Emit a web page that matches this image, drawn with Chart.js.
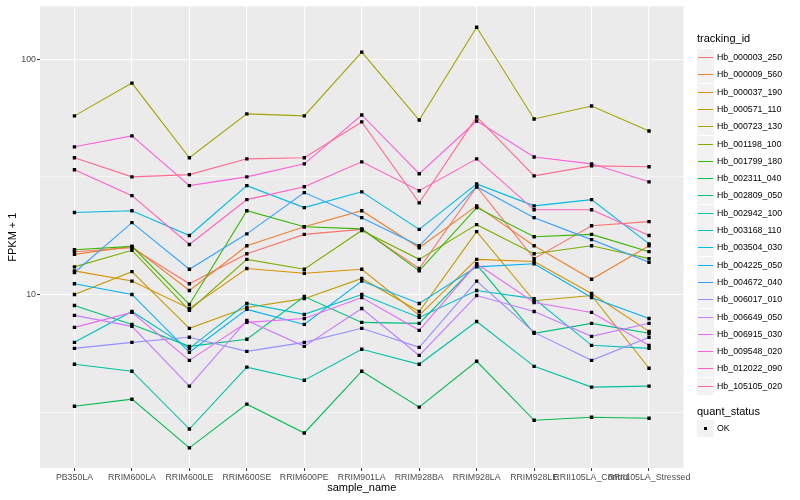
<!DOCTYPE html>
<html>
<head>
<meta charset="utf-8">
<script src="https://cdn.jsdelivr.net/npm/chart.js@4.4.1/dist/chart.umd.min.js"></script>
<style>
  body { margin: 0; background: #fff; font-family: "Liberation Sans", Arial, sans-serif; }
  #wrap { position: relative; width: 800px; height: 500px; }
  #legend div { position: absolute; white-space: nowrap; }
  .ttl { font-size: 11px; color: #000; }
  .key { width: 17px; height: 17px; background: #F2F2F2; }
  .lbl { font-size: 8.8px; color: #000; }
</style>
</head>
<body>
<div id="wrap">
  <canvas id="fpkmCanvas" width="800" height="500"></canvas>
  <div id="legend"></div>
</div>
<script>
// samples on the x axis
var categories = ["PB350LA", "RRIM600LA", "RRIM600LE", "RRIM600SE", "RRIM600PE", "RRIM901LA",
  "RRIM928BA", "RRIM928LA", "RRIM928LE", "RRII105LA_Control", "RRII105LA_Stressed"];

var trackingIds = ["Hb_000003_250", "Hb_000009_560", "Hb_000037_190", "Hb_000571_110", "Hb_000723_130",
  "Hb_001198_100", "Hb_001799_180", "Hb_002311_040", "Hb_002809_050", "Hb_002942_100",
  "Hb_003168_110", "Hb_003504_030", "Hb_004225_050", "Hb_004672_040", "Hb_006017_010",
  "Hb_006649_050", "Hb_006915_030", "Hb_009548_020", "Hb_012022_090", "Hb_105105_020"];

var lineColours = ["#F8766D", "#EA8331", "#D89000", "#C09B00", "#A3A500", "#7CAE00", "#39B600", "#00BB4E",
  "#00BF7D", "#00C1A3", "#00BFC4", "#00BAE0", "#00B0F6", "#35A2FF", "#9590FF", "#C77CFF",
  "#E76BF3", "#FA62DB", "#FF62BC", "#FF6C91"];

// FPKM + 1 per sample
var hb000003_250 = [15.2, 15.8, 11.1, 14.9, 18.0, 18.9, 12.9, 28.7, 14.2, 19.6, 20.4];
var hb000009_560 = [14.8, 16.0, 10.4, 16.1, 19.4, 22.7, 15.8, 23.8, 16.1, 11.6, 16.1];
var hb000037_190 = [12.6, 11.4, 8.72, 12.9, 12.3, 12.8, 8.15, 14.1, 13.8, 10.1, 6.97];
var hb000571_110 = [10.0, 12.5, 7.18, 8.81, 9.6, 11.7, 8.47, 18.5, 9.4, 9.9, 4.86];
var hb000723_130 = [57.4, 79.1, 38.1, 58.5, 57.4, 107.1, 55.1, 136.6, 55.7, 63.2, 49.5];
var hb001198_100 = [13.1, 15.4, 8.56, 14.1, 12.8, 18.7, 14.1, 19.8, 14.9, 16.1, 14.2];
var hb001799_180 = [15.5, 16.0, 9.07, 22.7, 19.4, 19.0, 12.6, 23.4, 17.6, 18.0, 15.2];
var hb002311_040 = [3.35, 3.59, 2.23, 3.42, 2.58, 4.72, 3.32, 5.20, 2.92, 3.01, 2.98];
var hb002809_050 = [8.98, 7.46, 6.02, 6.45, 9.8, 7.61, 7.54, 13.4, 6.84, 7.54, 6.84];
var hb002942_100 = [5.05, 4.72, 2.68, 4.91, 4.32, 5.85, 5.05, 7.68, 4.95, 4.04, 4.08];
var hb003168_110 = [6.26, 8.47, 5.90, 9.16, 8.23, 10.0, 7.99, 10.4, 9.6, 6.08, 5.90];
var hb003504_030 = [22.3, 22.7, 17.8, 29.0, 23.4, 27.3, 18.9, 29.5, 23.8, 25.3, 16.4];
var hb004225_050 = [11.1, 10.0, 5.68, 8.64, 7.46, 11.4, 9.16, 13.1, 13.5, 9.7, 7.91];
var hb004672_040 = [12.4, 20.2, 12.8, 18.1, 27.1, 21.2, 16.1, 28.7, 21.2, 17.1, 13.7];
var hb006017_010 = [5.90, 6.26, 6.58, 5.73, 6.26, 7.18, 5.96, 11.4, 6.90, 5.25, 6.58];
var hb006649_050 = [8.15, 7.32, 4.08, 7.76, 6.02, 8.72, 5.51, 9.9, 8.47, 6.64, 7.54];
var hb006915_030 = [7.25, 8.39, 5.25, 7.61, 7.91, 9.7, 7.04, 13.5, 9.25, 8.39, 6.08];
var hb009548_020 = [42.4, 47.2, 29.0, 31.6, 35.9, 57.9, 32.6, 54.6, 38.4, 35.9, 30.1];
var hb012022_090 = [33.9, 26.3, 16.3, 25.3, 28.7, 36.6, 27.6, 37.7, 22.9, 22.9, 17.8];
var hb105105_020 = [38.1, 31.6, 32.3, 37.7, 38.1, 54.1, 24.5, 56.8, 31.9, 35.2, 34.9];

var seriesValues = [hb000003_250, hb000009_560, hb000037_190, hb000571_110, hb000723_130,
  hb001198_100, hb001799_180, hb002311_040, hb002809_050, hb002942_100,
  hb003168_110, hb003504_030, hb004225_050, hb004672_040, hb006017_010,
  hb006649_050, hb006915_030, hb009548_020, hb012022_090, hb105105_020];

// log10 axis breaks
var yMajorBreaks = [10, 100];
var yMinorBreaks = [3.1623, 31.623];
var quantStatus = ["OK"];

// lines first, ggplot-like: later ids on top
var datasets = [];
var allPoints = [];
$each = function(arr, fn) { for (var i = 0; i < arr.length; i++) fn(i, arr[i]); };
$each(seriesValues, function(i, vals) {
  var pts = [];
  $each(vals, function(j, v) { pts.push({x: j, y: v}); allPoints.push({x: j, y: v}); });
  datasets.push({
    label: trackingIds[i],
    data: pts,
    borderColor: lineColours[i],
    borderWidth: 1.1,
    pointRadius: 0,
    tension: 0,
    order: seriesValues.length - i
  });
});
datasets.push({
  label: "quant_status",
  data: allPoints,
  showLine: false,
  pointStyle: "rect",
  pointRadius: 2.4,
  pointBackgroundColor: "#000",
  pointBorderWidth: 0,
  order: 0
});

var panelBg = {
  id: "panelBg",
  beforeDraw: function(chart) {
    var c = chart.ctx, a = chart.chartArea;
    c.save();
    c.fillStyle = "#fff";
    c.fillRect(0, 0, chart.width, chart.height);
    c.fillStyle = "#EBEBEB";
    c.fillRect(a.left, a.top, a.right - a.left, a.bottom - a.top);
    c.restore();
  }
};

function isMajor(v) { return yMajorBreaks.indexOf(v) >= 0; }

var ctx = document.getElementById("fpkmCanvas").getContext("2d");
new Chart(ctx, {
  type: "line",
  data: { datasets: datasets },
  plugins: [panelBg],
  options: {
    responsive: false,
    animation: false,
    events: [],
    layout: { padding: { left: 0, top: 5, right: 116.5, bottom: 0 } },
    plugins: { legend: { display: false }, tooltip: { enabled: false } },
    scales: {
      x: {
        type: "linear",
        min: -0.6,
        max: categories.length - 0.4,
        afterBuildTicks: function(s) { s.ticks = categories.map(function(c, i) { return {value: i}; }); },
        afterFit: function(s) { s.height = 32; },
        ticks: {
          autoSkip: false, maxRotation: 0, minRotation: 0, padding: 1,
          color: "#4D4D4D", font: { family: "Liberation Sans", size: 8.8 },
          callback: function(v) { return categories[v]; }
        },
        grid: { color: "#fff", lineWidth: 1.1, tickColor: "#333", tickLength: 3, tickWidth: 1 },
        border: { display: false },
        title: {
          display: true, text: "sample_name", color: "#000",
          font: { family: "Liberation Sans", size: 11 }, padding: { top: 0, bottom: 5 }
        }
      },
      y: {
        type: "logarithmic",
        min: 1.831,
        max: 167.7,
        afterBuildTicks: function(s) {
          s.ticks = yMinorBreaks.concat(yMajorBreaks).sort(function(a, b) { return a - b; })
            .map(function(v) { return {value: v}; });
        },
        afterFit: function(s) { s.width = 40; },
        ticks: {
          padding: 1, color: "#4D4D4D", font: { family: "Liberation Sans", size: 8.8 },
          callback: function(v) { return isMajor(v) ? String(v) : ""; }
        },
        grid: {
          color: "#fff",
          lineWidth: function(c) { return c.tick && isMajor(c.tick.value) ? 1.1 : 0.55; },
          tickColor: function(c) { return c.tick && isMajor(c.tick.value) ? "#333" : "rgba(0,0,0,0)"; },
          tickLength: 3, tickWidth: 1
        },
        border: { display: false },
        title: {
          display: true, text: "FPKM + 1", color: "#000",
          font: { family: "Liberation Sans", size: 11 }, padding: { top: 6, bottom: 0 }
        }
      }
    }
  }
});

// legend on the right, as text
var legend = document.getElementById("legend");
function addDiv(cls, left, top, html) {
  var d = document.createElement("div");
  d.className = cls;
  d.style.left = left + "px";
  d.style.top = top + "px";
  if (html) d.innerHTML = html;
  legend.appendChild(d);
  return d;
}
addDiv("ttl", 697, 32, "tracking_id");
$each(trackingIds, function(i, id) {
  var top = Math.round(49 + i * 17.3);
  var k = addDiv("key", 697, top);
  var ln = document.createElement("div");
  ln.setAttribute("style", "position:absolute;left:1px;top:7.5px;width:15px;height:1.6px;background:" + lineColours[i]);
  k.appendChild(ln);
  addDiv("lbl", 717, top + 3, id);
});
addDiv("ttl", 697, 405, "quant_status");
$each(quantStatus, function(i, s) {
  var top = Math.round(420 + i * 17.3);
  var k = addDiv("key", 697, top);
  var pt = document.createElement("div");
  pt.setAttribute("style", "position:absolute;left:7px;top:7px;width:3px;height:3px;background:#000");
  k.appendChild(pt);
  addDiv("lbl", 717, top + 3, s);
});
</script>
</body>
</html>
